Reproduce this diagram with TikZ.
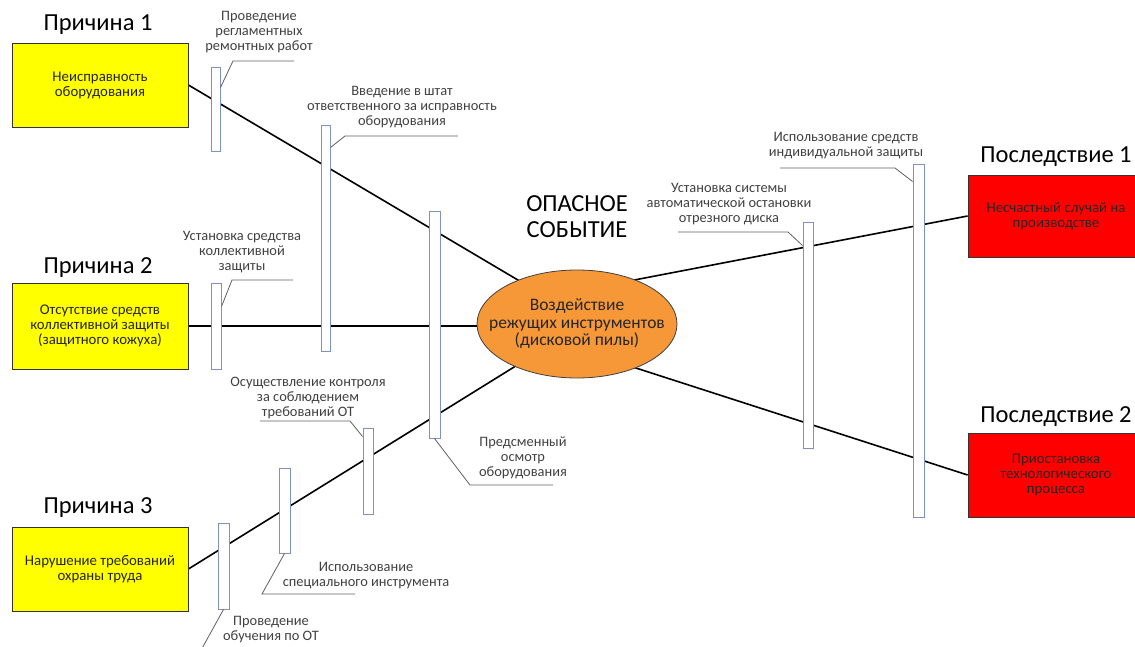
\documentclass[tikz,border=0pt]{standalone}
\usepackage{fontspec}
\setmainfont{Carlito}
\usetikzlibrary{shapes.geometric,calc}
\pgfdeclarelayer{bg}
\pgfsetlayers{bg,main}
\definecolor{boxyellow}{RGB}{255,255,0}
\definecolor{boxred}{RGB}{255,0,0}
\definecolor{evorange}{RGB}{246,152,56}
\definecolor{barblue}{RGB}{125,145,195}
\definecolor{leadgray}{RGB}{95,95,95}
\definecolor{txtgray}{RGB}{64,64,64}
\definecolor{boxtxt}{RGB}{38,38,38}
\tikzset{
  causebox/.style={draw=black!80, fill=boxyellow, line width=0.8pt, minimum width=176pt, minimum height=84pt, inner sep=0pt, align=center, font=\fontsize{14.8}{15}\selectfont, text=boxtxt},
  effbox/.style={causebox, fill=boxred},
  titletext/.style={font=\fontsize{24.5}{27}\selectfont, anchor=base, inner sep=0pt},
  barbox/.style={draw=barblue, fill=white, line width=1pt, inner sep=0pt},
  lbl/.style={font=\fontsize{14.4}{15}\selectfont, text=txtgray, align=center, inner sep=0pt},
  lead/.style={draw=leadgray, line width=0.8pt},
  mainline/.style={draw=black, line width=1.6pt},
  eventshape/.style={ellipse, draw=black!75, line width=0.8pt, fill=evorange, minimum width=200pt, minimum height=108pt, inner xsep=-22pt, inner ysep=0pt, align=center, font=\fontsize{17.5}{17.5}\selectfont, text=boxtxt},
}
\begin{document}
\begin{tikzpicture}[x=1pt,y=-1pt]
\useasboundingbox (0,0) rectangle (1135,647);
\clip (0,0) rectangle (1135,647);

% cause and consequence boxes
\node[causebox] (b1) at (100,85) {Неисправность\\оборудования};
\node[causebox, minimum height=86pt] (b2) at (100,326) {Отсутствие средств\\коллективной защиты\\(защитного кожуха)};
\node[causebox] (b3) at (100,569) {Нарушение требований\\охраны труда};
\node[effbox, minimum height=82pt] (c1) at (1056,216) {Несчастный случай на\\производстве};
\node[effbox] (c2) at (1056,475) {Приостановка\\технологического\\процесса};

% titles
\node[titletext] (t1) at (98,31) {Причина 1};
\node[titletext] (t2) at (98,273) {Причина 2};
\node[titletext] (t3) at (98,513) {Причина 3};
\node[titletext] (t4) at (1056,163) {Последствие 1};
\node[titletext] (t5) at (1056,422) {Последствие 2};
\node[titletext] (e1) at (577,212) {ОПАСНОЕ};
\node[titletext] (e2) at (577,237) {СОБЫТИЕ};

% hazardous event
\node[eventshape] (ev) at (577,324) {Воздействие\\режущих инструментов\\(дисковой пилы)};

% barriers
\node[barbox, minimum width=9pt, minimum height=84pt] (bA) at (215.5,110) {};
\node[barbox, minimum width=9pt, minimum height=225pt] (bB) at (325.5,238.5) {};
\node[barbox, minimum width=10pt, minimum height=86pt] (bC) at (216,326) {};
\node[barbox, minimum width=11pt, minimum height=226pt] (bD) at (434.5,325) {};
\node[barbox, minimum width=10pt, minimum height=86pt] (bE) at (368,471) {};
\node[barbox, minimum width=11pt, minimum height=85pt] (bF) at (284.5,510.5) {};
\node[barbox, minimum width=11pt, minimum height=86pt] (bG) at (223.5,566) {};
\node[barbox, minimum width=10pt, minimum height=225pt] (bH) at (808,335.5) {};
\node[barbox, minimum width=11pt, minimum height=352pt] (bI) at (918.5,341) {};

% main lines (behind)
\coordinate (k1) at (577,315);
\coordinate (k3) at (577,328);
\coordinate (k4) at (577,291);
\coordinate (k5) at (577,349);
\begin{pgfonlayer}{bg}
\draw[mainline] (b1.east) -- (k1);
\draw[mainline] (b2.east) -- (b2.east -| ev.center);
\draw[mainline] (b3.east) -- (k3);
\draw[mainline] (c1.west) -- (k4);
\draw[mainline] (c2.west) -- (k5);
\end{pgfonlayer}

% labels
\node[lbl] (lA) at (259,32) {Проведение\\регламентных\\ремонтных работ};
\node[lbl] (lB) at (402,107) {Введение в штат\\ответственного за исправность\\оборудования};
\node[lbl] (lC) at (242,252) {Установка средства\\коллективной\\защиты};
\node[lbl] (lE) at (308,398) {Осуществление контроля\\за соблюдением\\требований ОТ};
\node[lbl] (lD) at (523,458) {Предсменный\\осмотр\\оборудования};
\node[lbl] (lF) at (366,575.5) {Использование\\специального инструмента};
\node[lbl] (lG) at (271,629.5) {Проведение\\обучения по ОТ};
\node[lbl] (lH) at (729,204) {Установка системы\\автоматической остановки\\отрезного диска};
\node[lbl] (lI) at (846,145.5) {Использование средств\\индивидуальной защиты};

% leaders
\coordinate (a1) at (233,61);  \coordinate (a2) at (294,61);
\draw[lead] ($(bA.north east)+(0,20)$) -- (a1) -- (a2);
\coordinate (bb1) at (345,136); \coordinate (bb2) at (458,136);
\draw[lead] ($(bB.north east)+(0,22)$) -- (bb1) -- (bb2);
\coordinate (c1a) at (232,280); \coordinate (c1b) at (293,280);
\draw[lead] ($(bC.north east)+(0,24)$) -- (c1a) -- (c1b);
\coordinate (d1) at (470,485); \coordinate (d2) at (553,485);
\draw[lead] (bD.south) -- (d1) -- (d2);
\coordinate (e1a) at (350,421); \coordinate (e1b) at (260,421);
\draw[lead] ($(bE.north west)+(0,9)$) -- (e1a) -- (e1b);
\coordinate (f1) at (262,594); \coordinate (f2) at (355,594);
\draw[lead] (bF.south) -- (f1) -- (f2);
\coordinate (g1) at (200,652);
\draw[lead] (bG.south) -- (g1);
\coordinate (h1) at (788,232); \coordinate (h2) at (678,232);
\draw[lead] ($(bH.north west)+(0,23)$) -- (h1) -- (h2);
\coordinate (i1) at (895,168); \coordinate (i2) at (780,168);
\draw[lead] ($(bI.north west)+(0,17)$) -- (i1) -- (i2);
\end{tikzpicture}
\end{document}
